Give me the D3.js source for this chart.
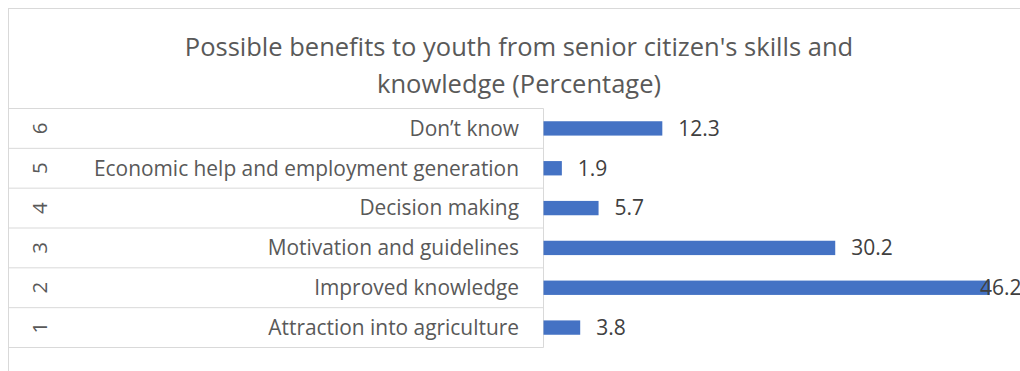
<!DOCTYPE html>
<html>
<head>
<meta charset="utf-8">
<script src="https://cdn.jsdelivr.net/npm/d3@7"></script>
<style>
  body { margin: 0; background: #fff; }
  svg { font-family: "Open Sans", sans-serif; }
</style>
</head>
<body>
<svg width="1020" height="371"></svg>
<script>
// categories from bottom (1) to top (6)
const codes = ["1", "2", "3", "4", "5", "6"];
const categories = [
  "Attraction into agriculture",
  "Improved knowledge",
  "Motivation and guidelines",
  "Decision making",
  "Economic help and employment generation",
  "Don\u2019t know"
];
const values = [3.8, 46.2, 30.2, 5.7, 1.9, 12.3];
const titleLines = [
  "Possible benefits to youth from senior citizen's skills and",
  "knowledge (Percentage)"
];

const svg = d3.select("svg");
const rows = codes.map((c, i) => ({code: c, label: categories[i], value: values[i]}));

// chart frame
svg.append("rect")
  .attr("x", 8.5).attr("y", 8.5)
  .attr("width", 1100).attr("height", 400)
  .attr("fill", "none")
  .attr("stroke", "#d9d9d9");

// title
svg.append("text")
  .attr("text-anchor", "middle")
  .attr("fill", "#595959")
  .style("font-size", "25.5px")
  .selectAll("tspan")
  .data(titleLines)
  .enter()
  .append("tspan")
  .attr("x", 519)
  .attr("y", (d, i) => 56 + i * 37)
  .text(d => d);

const tableLeft = 8;
const axisX = 543.5;
const plotTop = 108.5;
const plotBottom = 347.5;

const x = d3.scaleLinear().domain([0, 50]).range([axisX, axisX + 483]);
const y = d3.scaleBand()
  .domain(codes)
  .range([plotBottom, plotTop])
  .paddingInner(0.64)
  .paddingOuter(0.32);

// table grid lines at row edges
const edges = d3.range(codes.length + 1).map(i => plotTop + i * ((plotBottom - plotTop) / codes.length));

svg.append("g")
  .selectAll("line")
  .data(edges)
  .enter()
  .append("line")
  .attr("x1", tableLeft).attr("x2", axisX)
  .attr("y1", d => d).attr("y2", d => d)
  .attr("stroke", "#d9d9d9");

svg.append("line")
  .attr("x1", axisX).attr("x2", axisX)
  .attr("y1", plotTop).attr("y2", plotBottom)
  .attr("stroke", "#d9d9d9");

const rowCenter = d => y(d.code) + y.bandwidth() / 2;

// rotated code numbers
svg.append("g")
  .selectAll("text")
  .data(rows)
  .enter()
  .append("text")
  .attr("transform", d => `translate(40,${rowCenter(d)}) rotate(-90)`)
  .attr("text-anchor", "middle")
  .attr("dy", "0.35em")
  .attr("fill", "#595959")
  .style("font-size", "20.5px")
  .text(d => d.code);

// category labels
svg.append("g")
  .selectAll("text")
  .data(rows)
  .enter()
  .append("text")
  .attr("x", 519)
  .attr("y", rowCenter)
  .attr("dy", "0.35em")
  .attr("text-anchor", "end")
  .attr("fill", "#595959")
  .style("font-size", "20.9px")
  .text(d => d.label);

// bars
svg.append("g")
  .selectAll("rect")
  .data(rows)
  .enter()
  .append("rect")
  .attr("x", x(0))
  .attr("y", d => y(d.code))
  .attr("width", d => x(d.value) - x(0))
  .attr("height", y.bandwidth())
  .attr("fill", "#4472c4");

// value labels (the longest one is pulled back inside the frame)
svg.append("g")
  .selectAll("text")
  .data(rows)
  .enter()
  .append("text")
  .attr("x", d => Math.min(x(d.value) + 16, 980))
  .attr("y", rowCenter)
  .attr("dy", "0.35em")
  .attr("fill", "#404040")
  .style("font-size", "21px")
  .text(d => d.value.toFixed(1));
</script>
</body>
</html>
